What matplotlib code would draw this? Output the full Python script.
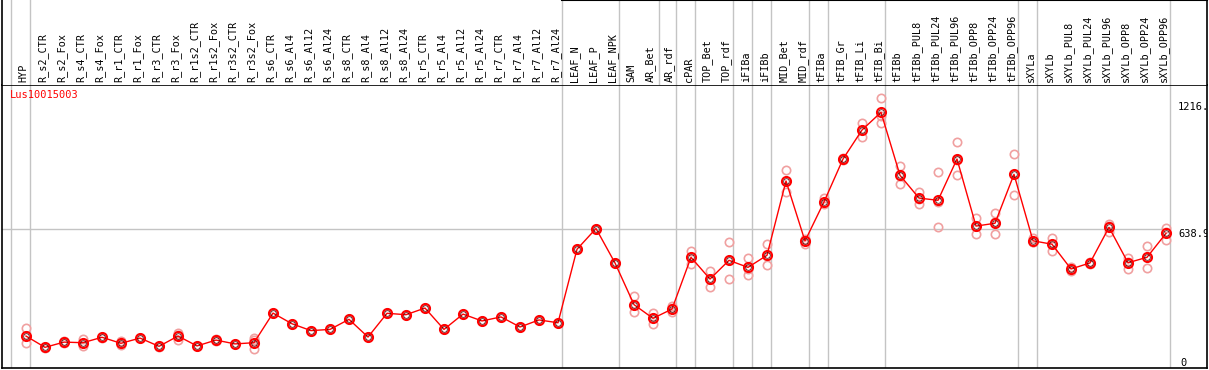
import matplotlib
matplotlib.use('Agg')
import matplotlib.pyplot as plt

# sample names along the top
samples = ['HYP', 'R_s2_CTR', 'R_s2_Fox', 'R_s4_CTR', 'R_s4_Fox', 'R_r1_CTR', 'R_r1_Fox',
           'R_r3_CTR', 'R_r3_Fox', 'R_r1s2_CTR', 'R_r1s2_Fox', 'R_r3s2_CTR', 'R_r3s2_Fox',
           'R_s6_CTR', 'R_s6_Al4', 'R_s6_Al12', 'R_s6_Al24', 'R_s8_CTR', 'R_s8_Al4',
           'R_s8_Al12', 'R_s8_Al24', 'R_r5_CTR', 'R_r5_Al4', 'R_r5_Al12', 'R_r5_Al24',
           'R_r7_CTR', 'R_r7_Al4', 'R_r7_Al12', 'R_r7_Al24', 'LEAF_N', 'LEAF_P', 'LEAF_NPK',
           'SAM', 'AR_Bet', 'AR_rdf', 'cPAR', 'TOP_Bet', 'TOP_rdf', 'iFIBa', 'iFIBb',
           'MID_Bet', 'MID_rdf', 'tFIBa', 'tFIB_Gr', 'tFIB_Li', 'tFIB_Bi', 'tFIBb',
           'tFIBb_PUL8', 'tFIBb_PUL24', 'tFIBb_PUL96', 'tFIBb_OPP8', 'tFIBb_OPP24',
           'tFIBb_OPP96', 'sXYLa', 'sXYLb', 'sXYLb_PUL8', 'sXYLb_PUL24', 'sXYLb_PUL96',
           'sXYLb_OPP8', 'sXYLb_OPP24', 'sXYLb_OPP96']

# mean expression per sample
means = [105, 49, 75, 72, 99, 69, 95, 54, 105, 56, 85, 66, 72,
         219, 166, 132, 138, 188, 100, 218, 211, 244, 138, 214, 180, 200, 150, 185, 171,
         536, 638.9, 468, 261, 193, 239, 496, 388, 481, 446, 506,
         875, 577, 771, 984, 1128, 1216, 903, 790, 779, 984, 651, 665, 908,
         578, 561, 438, 468, 645, 469, 496, 615]

# replicate values
rep_a = [143, 47, 80, 90, 101, 79, 97, 56, 122, 58, 90, 68, 94,
         219, 166, 132, 138, 188, 100, 218, 211, 244, 138, 214, 180, 200, 150, 185, 171,
         536, 638.9, 468, 302, 221, 252, 527, 428, 570, 491, 560,
         929, 587, 789, 990, 1163, 1287, 949, 822, 918, 1068, 691, 714, 1009,
         590, 593, 449, 475, 663, 494, 551, 641]
rep_b = [69, 51, 70, 54, 97, 59, 93, 52, 85, 54, 80, 64, 39,
         219, 166, 132, 138, 188, 100, 218, 211, 244, 138, 214, 180, 200, 150, 185, 171,
         536, 638.9, 468, 223, 165, 223, 464, 350, 390, 407, 456,
         819, 560, 759, 978, 1095, 1164, 858, 761, 646, 903, 613, 612, 804,
         570, 527, 428, 461, 620, 439, 441, 583]
rep_c = [103, 49, 75, 72, 99, 69, 95, 54, 108, 56, 85, 66, 83,
         219, 166, 132, 138, 188, 100, 218, 211, 244, 138, 214, 180, 200, 150, 185, 171,
         536, 638.9, 468, 258, 193, 242, 497, 386, 483, 440, 502,
         877, 584, 765, 984, 1126, 1197, 902, 787, 773, 981, 649, 669, 911,
         574, 563, 437, 468, 652, 474, 496, 621]

# group separators (after these sample indices)
sep_full = [-1, 0, 28, 31, 34, 35, 37, 38, 39, 41, 42, 45, 52, 53, 60]
sep_top = [33]

gene = 'Lus10015003'
ref_value = 638.9
max_label = '1216.'
mid_label = '638.9'

W, H = 1209, 370
fig = plt.figure(figsize=(W / 100, H / 100), dpi=100)
xlim = ((2 - 26) / 19, (1207 - 26) / 19)

ax = fig.add_axes([2 / W, 2 / H, 1205 / W, 283 / H])
ax.set_xlim(*xlim)
ax.set_ylim(-53.6, 1351.5)
ax.set_xticks([])
ax.set_yticks([])
for s in ax.spines.values():
    s.set_color('black')
    s.set_linewidth(1.2)

axl = fig.add_axes([2 / W, 285 / H, 1205 / W, 85 / H])
axl.set_xlim(*xlim)
axl.set_ylim(0, 85)
axl.set_xticks([])
axl.set_yticks([])
axl.spines['top'].set_visible(False)
axl.spines['bottom'].set_visible(False)
for s in ['left', 'right']:
    axl.spines[s].set_linewidth(1.2)
axl.plot([28.2, xlim[1]], [84.6, 84.6], color='black', lw=1.5, clip_on=False)

grey = '#c4c4c4'
for s in sep_full:
    ax.axvline(s + 0.22, color=grey, lw=1, zorder=0)
    axl.axvline(s + 0.22, color=grey, lw=1, zorder=0)
for s in sep_top:
    axl.axvline(s + 0.3, color=grey, lw=1, zorder=0)

ax.plot([xlim[0], 60.22], [ref_value, ref_value], color=grey, lw=1, zorder=0)

mono = 'DejaVu Sans Mono'
for i, name in enumerate(samples):
    axl.text(i - 0.12, 3.5, name, rotation=90, ha='center', va='bottom',
             fontsize=7.3, family=mono)

x = list(range(len(samples)))
for reps in (rep_a, rep_b, rep_c):
    ax.plot(x, reps, 'o', ls='none', mfc='none', mec='#f0a0a0', ms=6, mew=1.2, zorder=2)

ax.plot(x, means, color='red', lw=1, zorder=3)
ax.plot(x, means, 'o', ls='none', mfc='none', mec='red', ms=6.5, mew=1.5, zorder=4)
ax.plot(x, means, 'o', ls='none', mfc='none', mec='#400000', ms=4, mew=0.5, zorder=5)

ax.text(-0.85, 1300, gene, color='red', fontsize=7.5, family=mono, va='center', ha='left')
ax.text(60.63, 1216, max_label, fontsize=7.5, family=mono, va='bottom', ha='left', clip_on=True)
ax.text(60.63, ref_value, mid_label, fontsize=7.5, family=mono, va='top', ha='left', clip_on=True)
ax.text(60.75, -3, '0', fontsize=7.5, family=mono, va='top', ha='left')

fig.savefig('out.png', dpi=100)
